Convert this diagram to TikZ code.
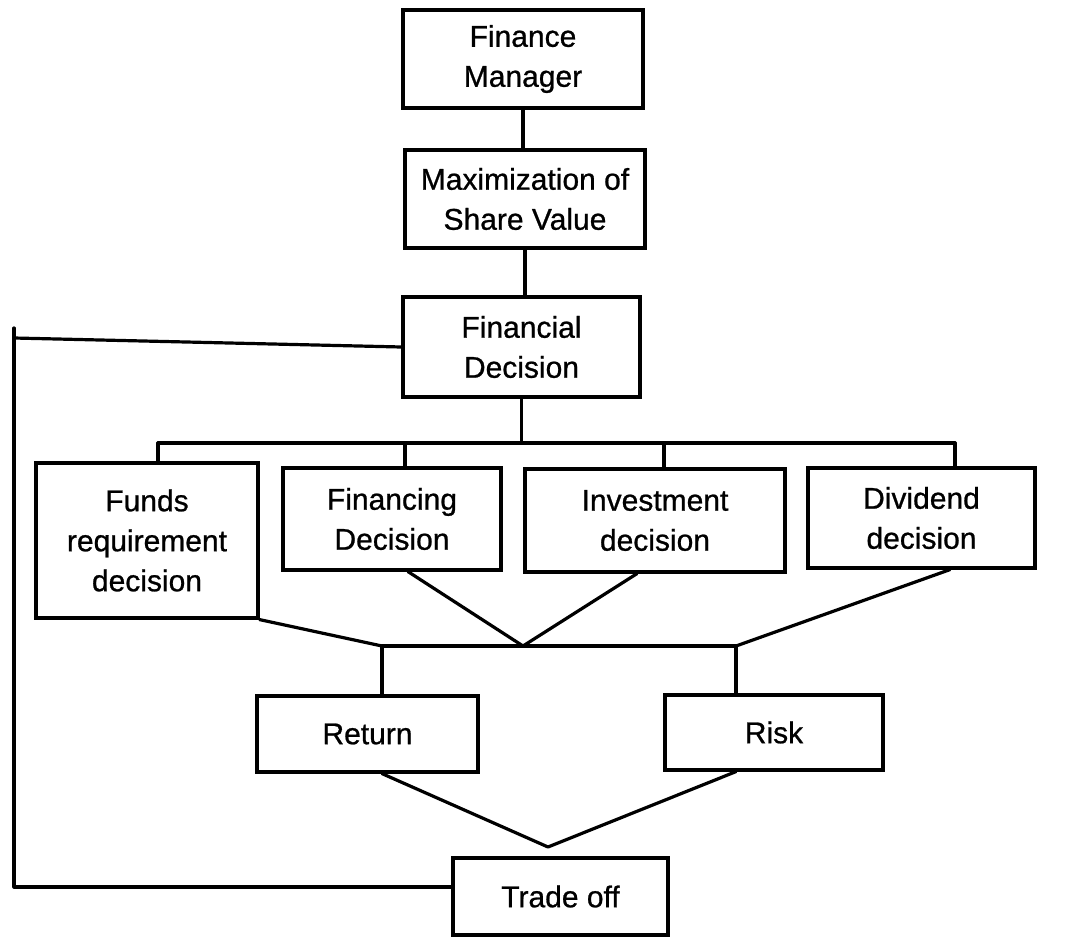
\documentclass[tikz,border=0pt]{standalone}
\usepackage{fontspec}
\setmainfont{Liberation Sans}
\newfontfamily\boxfont[FakeBold=0.8]{Liberation Sans}
\begin{document}
\begin{tikzpicture}[x=1pt,y=-1pt,
  box/.style={draw=black,line width=3.2pt,fill=white,inner sep=0pt,align=center,
    font=\boxfont\fontsize{30}{40}\selectfont},
  conn/.style={line width=3.2pt,line cap=round,line join=round}]
\useasboundingbox (0,0) rectangle (1079,939);
% boxes
\node[box,minimum width=240,minimum height=98] (FM) at (523,59) {Finance\\Manager};
\node[box,minimum width=240,minimum height=98] (MSV) at (525,199) {Maximization of\\Share Value};
\node[box,minimum width=237,minimum height=100] (FD) at (521.5,347) {Financial\\Decision};
\node[box,minimum width=222,minimum height=155] (FR) at (147,540.5) {Funds\\requirement\\decision};
\node[box,minimum width=218,minimum height=102] (FIN) at (392,519) {Financing\\Decision};
\node[box,minimum width=260,minimum height=103] (INV) at (655,520.5) {Investment\\decision};
\node[box,minimum width=227,minimum height=100] (DIV) at (921.5,518) {Dividend\\decision};
\node[box,minimum width=221,minimum height=76] (RET) at (367.5,734) {Return};
\node[box,minimum width=218,minimum height=75] (RISK) at (774,732.5) {Risk};
\node[box,minimum width=215,minimum height=77] (TO) at (560.5,896.5) {Trade off};
% coordinates
\coordinate (bl) at (158,443);
\coordinate (br) at (955,443);
\coordinate (d2) at (405,443);
\coordinate (d3) at (664,443);
\coordinate (a1) at (523,646);
\coordinate (rl) at (382,646);
\coordinate (rr) at (736,646);
\coordinate (a2) at (548,847);
\coordinate (lt) at (14,338);
\coordinate (ltop) at (14,328);
\coordinate (lbot) at (14,887);
% top chain
\draw[conn] (FM.south) -- (FM.south |- MSV.north);
\draw[conn] (MSV.south) -- (MSV.south |- FD.north);
\draw[conn] (FD.south) -- (FD.south |- bl);
% bar and drops
\draw[conn] (bl) -- (br);
\draw[conn] (bl) -- (bl |- FR.north);
\draw[conn] (d2) -- (d2 |- FIN.north);
\draw[conn] (d3) -- (d3 |- INV.north);
\draw[conn] (br) -- (br |- DIV.north);
% convergence
\draw[conn] (FR.south east) -- (rl);
\draw[conn] ([xshift=16pt]FIN.south) -- (a1) -- ([xshift=-18pt]INV.south);
\draw[conn] ([xshift=28.5pt]DIV.south) -- (rr);
\draw[conn] (rl) -- (rr);
\draw[conn] (rl) -- (rl |- RET.north);
\draw[conn] (rr) -- (rr |- RISK.north);
% lower V
\draw[conn] (rl |- RET.south) -- (a2) -- (rr |- RISK.south);
% feedback loop
\draw[conn] (FD.west) -- (lt);
\draw[conn] (ltop) -- (lbot) -- (lbot -| TO.west);
\end{tikzpicture}
\end{document}
